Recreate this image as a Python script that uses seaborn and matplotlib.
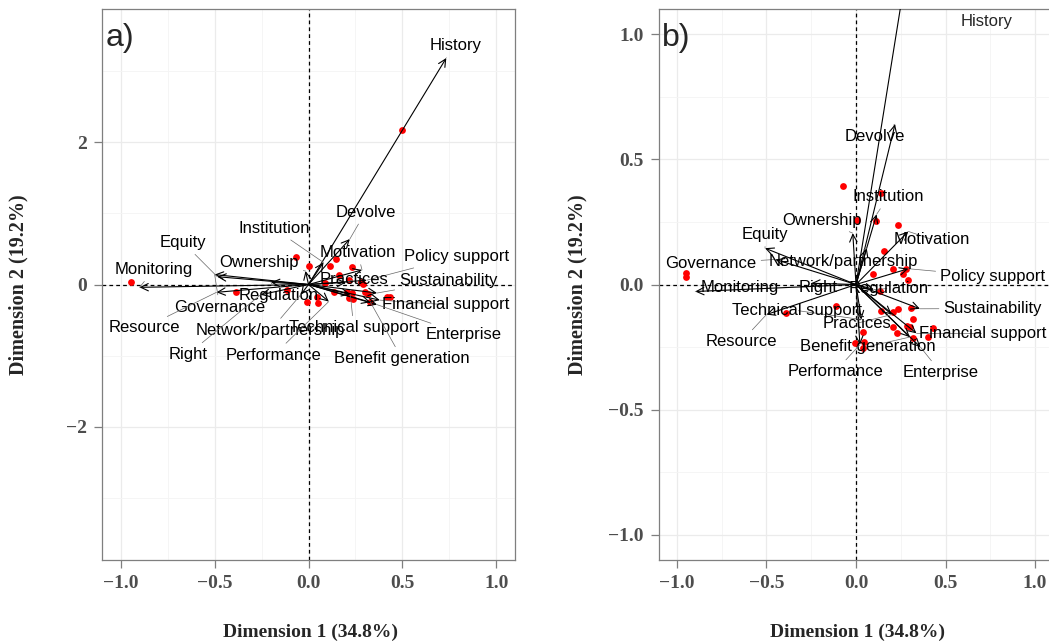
import matplotlib
matplotlib.use("Agg")
import matplotlib.pyplot as plt
from matplotlib.patches import FancyArrowPatch
from matplotlib.ticker import MultipleLocator
import seaborn as sns
import pandas as pd

###--- Variable names (same for both panels):
variables = ["History", "Devolve", "Institution", "Motivation", "Policy support",
             "Ownership", "Equity", "Monitoring", "Governance", "Resource",
             "Regulation", "Network/partnership", "Right", "Practices",
             "Sustainability", "Financial support", "Enterprise",
             "Technical support", "Benefit generation", "Performance"]

###--- Panel a) arrow tips and label positions:
a_arrow_x = [0.734, 0.22, 0.08, 0.285, 0.31, -0.016, -0.486, -0.90, -0.50, -0.49,
             -0.20, -0.04, -0.255, 0.20, 0.365, 0.38, 0.365, 0.223, 0.33, 0.108]
a_arrow_y = [3.19, 0.64, 0.31, 0.205, 0.06, 0.19, 0.11, -0.04, 0.14, -0.11,
             0.03, -0.14, -0.145, 0.03, -0.12, -0.22, -0.284, -0.14, -0.25, -0.24]
a_label_x = [0.785, 0.303, -0.184, 0.262, 0.787, -0.264, -0.667, -0.823, -0.473, -0.876,
             -0.158, -0.202, -0.642, 0.241, 0.746, 0.729, 0.826, 0.241, 0.498, -0.184]
a_label_y = [3.36, 1.02, 0.79, 0.45, 0.39, 0.31, 0.59, 0.21, -0.317, -0.611,
             -0.158, -0.643, -0.984, 0.066, 0.056, -0.284, -0.704, -0.611, -1.045, -0.993]

###--- Panel a) individuals:
a_pts_x = [-0.947, -0.388, -0.113, -0.069, 0.002, -0.007, 0.043, 0.05, 0.113, 0.144,
           0.161, 0.232, 0.09, 0.214, 0.277, 0.135, 0.206, 0.232, 0.214, 0.236,
           0.303, 0.316, 0.33, 0.418, 0.436, 0.498, 0.29]
a_pts_y = [0.04, -0.11, -0.075, 0.39, 0.26, -0.24, -0.18, -0.26, 0.26, 0.36,
           0.135, 0.24, 0.02, 0.065, 0.04, -0.1, -0.1, -0.12, -0.19, -0.2,
           -0.1, -0.13, -0.24, -0.18, -0.17, 2.17, 0.01]

###--- Panel b) arrow tips and label positions:
b_arrow_x = [0.33, 0.218, 0.115, 0.292, 0.292, -0.018, -0.508, -0.898, -0.45, -0.50,
             0.10, 0.06, -0.25, 0.20, 0.357, 0.338, 0.36, 0.03, 0.30, 0.022]
b_arrow_y = [1.47, 0.64, 0.28, 0.212, 0.063, 0.205, 0.145, -0.028, 0.10, -0.12,
             -0.02, 0.145, 0.005, -0.12, -0.097, -0.195, -0.25, -0.14, -0.21, -0.24]
b_label_x = [0.73, 0.106, 0.18, 0.424, 0.764, -0.19, -0.508, -0.647, -0.81, -0.64,
             0.18, -0.073, -0.21, 0.004, 0.764, 0.708, 0.474, -0.329, 0.067, -0.117]
b_label_y = [1.05, 0.59, 0.35, 0.18, 0.032, 0.256, 0.2, -0.012, 0.084, -0.228,
             -0.016, 0.092, -0.012, -0.155, -0.096, -0.196, -0.352, -0.104, -0.248, -0.348]

###--- Panel b) individuals:
b_pts_x = [-0.074, 0.138, 0.004, 0.112, 0.232, 0.158, 0.205, 0.097, 0.26, 0.288,
           0.28, -0.948, -0.948, 0.134, -0.113, -0.39, 0.139, 0.205, 0.236, 0.305,
           0.32, 0.208, 0.283, 0.30, 0.428, 0.23, 0.403, 0.037, 0.32, 0.046,
           -0.006, 0.037]
b_pts_y = [0.392, 0.365, 0.259, 0.252, 0.236, 0.132, 0.063, 0.041, 0.041, 0.016,
           0.06, 0.045, 0.028, -0.025, -0.084, -0.112, -0.105, -0.108, -0.097, -0.095,
           -0.139, -0.171, -0.164, -0.17, -0.175, -0.195, -0.211, -0.188, -0.215, -0.228,
           -0.235, -0.255]

###--- Style:
sns.set_style("white")
plt.rcParams['font.family'] = ['Liberation Sans', 'DejaVu Sans']
serif = ['Liberation Serif', 'DejaVu Serif']

fig = plt.figure(figsize=(10.49, 6.44), dpi=100)
axA = fig.add_axes([102/1049, 84/644, 413/1049, 551/644])
axB = fig.add_axes([659/1049, 84/644, 394/1049, 551/644])


def draw_panel(ax, ax_x, ax_y, lb_x, lb_y, px, py, xlim, ylim, yticks, ystep, tag):
    ax.set_xlim(*xlim)
    ax.set_ylim(*ylim)
    ax.xaxis.set_major_locator(MultipleLocator(0.5))
    ax.xaxis.set_minor_locator(MultipleLocator(0.25))
    ax.set_yticks(yticks)
    ax.yaxis.set_minor_locator(MultipleLocator(ystep))
    ax.grid(which='major', color='#ebebeb', lw=0.9, zorder=0)
    ax.grid(which='minor', color='#f4f4f4', lw=0.6, zorder=0)
    ax.set_axisbelow(True)
    for s in ax.spines.values():
        s.set_color('#7f7f7f')
        s.set_linewidth(0.9)

    ax.axhline(0, color='black', ls=(0, (3, 2.5)), lw=0.9, zorder=1)
    ax.axvline(0, color='black', ls=(0, (3, 2.5)), lw=0.9, zorder=1)

    pts = pd.DataFrame({'x': px, 'y': py})
    sns.scatterplot(data=pts, x='x', y='y', color='red', s=24, linewidth=0,
                    ax=ax, zorder=2)

    for tx, ty in zip(ax_x, ax_y):
        arr = FancyArrowPatch((0, 0), (tx, ty),
                              arrowstyle="->,head_length=0.45,head_width=0.22",
                              mutation_scale=12, color='black', lw=0.8,
                              shrinkA=0, shrinkB=0, zorder=3)
        ax.add_patch(arr)

    for name, tx, ty, lx, ly in zip(variables, ax_x, ax_y, lb_x, lb_y):
        inside = xlim[0] < tx < xlim[1] and ylim[0] < ty < ylim[1]
        if inside:
            ax.annotate(name, xy=(tx, ty), xytext=(lx, ly), ha='center', va='center',
                        fontsize=12, color='black', zorder=4, annotation_clip=False,
                        arrowprops=dict(arrowstyle='-', color='#666666', lw=0.5,
                                        shrinkA=1, shrinkB=0))
        else:
            ax.text(lx, ly, name, ha='center', va='center', fontsize=12, zorder=4)

    ax.text(0.008, 0.975, tag, transform=ax.transAxes, ha='left', va='top',
            fontsize=23, zorder=5)

    ax.tick_params(axis='both', which='major', direction='out', length=6, width=0.9,
                   color='#7f7f7f', pad=5, bottom=True, left=True)
    ax.tick_params(axis='both', which='minor', length=0)
    for lab in ax.get_xticklabels() + ax.get_yticklabels():
        lab.set_family(serif)
        lab.set_weight('bold')
        lab.set_color('#4d4d4d')
        lab.set_fontsize(14)

    ax.set_xlabel('Dimension 1 (34.8%)', family=serif, weight='bold',
                  fontsize=14, va='center')
    ax.set_ylabel('Dimension 2 (19.2%)', family=serif, weight='bold',
                  fontsize=14.5, va='center')


draw_panel(axA, a_arrow_x, a_arrow_y, a_label_x, a_label_y, a_pts_x, a_pts_y,
           (-1.1, 1.1), (-3.88, 3.88), [-2, 0, 2], 1.0, 'a)')
axA.xaxis.set_label_coords(0.504, -0.132)
axA.yaxis.set_label_coords(-0.203, 0.5)

draw_panel(axB, b_arrow_x, b_arrow_y, b_label_x, b_label_y, b_pts_x, b_pts_y,
           (-1.1, 1.1), (-1.1, 1.1), [-1.0, -0.5, 0.0, 0.5, 1.0], 0.25, 'b)')
axB.xaxis.set_label_coords(0.503, -0.132)
axB.yaxis.set_label_coords(-0.208, 0.5)

fig.savefig('out.png', dpi=100)
